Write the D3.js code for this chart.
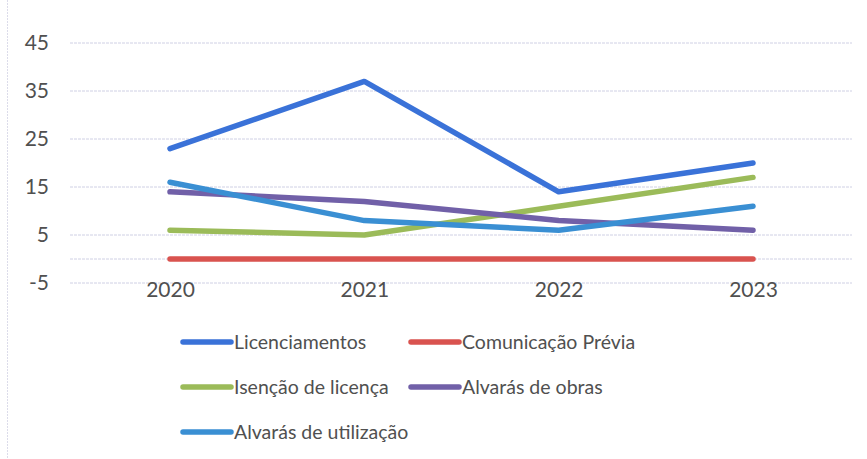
<!DOCTYPE html>
<html>
<head>
<meta charset="utf-8">
<script src="https://cdn.jsdelivr.net/npm/d3@7"></script>
<style>
  body { margin: 0; background: #fff; }
  svg { font-family: Lato, "Open Sans", sans-serif; }
</style>
</head>
<body>
<div id="chart"></div>
<script>
var width = 867;
var height = 459;

// data
var years = ["2020", "2021", "2022", "2023"];
var yTicks = [-5, 5, 15, 25, 35, 45];
var seriesNames = ["Licenciamentos", "Comunicação Prévia", "Isenção de licença", "Alvarás de obras", "Alvarás de utilização"];
var licenciamentos = [23, 37, 14, 20];
var comunicacaoPrevia = [0, 0, 0, 0];
var isencaoLicenca = [6, 5, 11, 17];
var alvarasObras = [14, 12, 8, 6];
var alvarasUtilizacao = [16, 8, 6, 11];
var colors = ["#3a72d8", "#d9534f", "#9bbb59", "#7160a8", "#3a8fd3"];

var allValues = [licenciamentos, comunicacaoPrevia, isencaoLicenca, alvarasObras, alvarasUtilizacao];
var series = seriesNames.map(function(name, i) {
    return { name: name, values: allValues[i], color: colors[i] };
});

var svg = d3.select("#chart")
    .append("svg")
    .attr("width", width)
    .attr("height", height);

// faint scanned border on the left
svg.append("line")
    .attr("x1", 7.5).attr("x2", 7.5)
    .attr("y1", 0).attr("y2", height)
    .attr("stroke", "#dcdcea")
    .attr("stroke-dasharray", "2,1");

var xScale = d3.scalePoint().domain(years).range([170, 753]);
var yScale = d3.scaleLinear().domain([-5, 45]).range([283, 43]);

// gridlines
svg.append("g")
    .selectAll("line")
    .data(yTicks)
    .enter()
    .append("line")
    .attr("x1", 70)
    .attr("x2", 852)
    .attr("y1", function(d) { return yScale(d); })
    .attr("y2", function(d) { return yScale(d); })
    .attr("stroke", "#cfd0e4")
    .attr("stroke-width", 1)
    .attr("stroke-dasharray", "3,1");

// horizontal axis line at 0
svg.append("line")
    .attr("x1", 70).attr("x2", 852)
    .attr("y1", yScale(0)).attr("y2", yScale(0))
    .attr("stroke", "#cfd0e4")
    .attr("stroke-dasharray", "3,1");

// y axis labels
var yAxis = d3.axisLeft(yScale).tickValues(yTicks).tickSize(0).tickPadding(0)
    .tickFormat(function(d) { return String(d); });
var yG = svg.append("g")
    .attr("transform", "translate(49,0)")
    .call(yAxis);
yG.select(".domain").remove();
yG.selectAll("text")
    .attr("fill", "#505050")
    .style("font-size", "21px")
    .style("font-family", "Lato, sans-serif");

// x axis labels
var xAxis = d3.axisBottom(xScale).tickSize(0).tickPadding(0);
var xG = svg.append("g")
    .attr("transform", "translate(0,282)")
    .call(xAxis);
xG.select(".domain").remove();
xG.selectAll("text")
    .attr("fill", "#505050")
    .style("font-size", "21px")
    .style("font-family", "Lato, sans-serif");

// lines
var line = d3.line()
    .x(function(d, i) { return xScale(years[i]); })
    .y(function(d) { return yScale(d); });

svg.append("g")
    .selectAll("path")
    .data(series)
    .enter()
    .append("path")
    .attr("d", function(d) { return line(d.values); })
    .attr("fill", "none")
    .attr("stroke", function(d) { return d.color; })
    .attr("stroke-width", 5.5)
    .attr("stroke-linecap", "round")
    .attr("stroke-linejoin", "round");

// legend
var legendPos = [[183, 342], [411, 342], [183, 387], [411, 387], [183, 432]];
var legendG = svg.append("g")
    .selectAll("g")
    .data(series)
    .enter()
    .append("g")
    .attr("transform", function(d, i) { return "translate(" + legendPos[i][0] + "," + legendPos[i][1] + ")"; });

legendG.append("line")
    .attr("x1", 0).attr("x2", 48)
    .attr("y1", 0).attr("y2", 0)
    .attr("stroke", function(d) { return d.color; })
    .attr("stroke-width", 5.5)
    .attr("stroke-linecap", "round");

legendG.append("text")
    .attr("x", 51)
    .attr("y", 0)
    .attr("dy", "0.35em")
    .attr("fill", "#505050")
    .style("font-size", "19.5px")
    .text(function(d) { return d.name; });
</script>
</body>
</html>
